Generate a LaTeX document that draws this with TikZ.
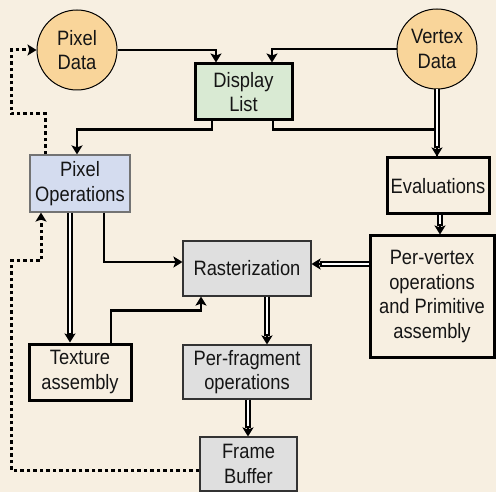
\documentclass[tikz,border=0pt]{standalone}
\usepackage{fontspec}
\setmainfont{Liberation Sans}[FakeStretch=0.88]
\usetikzlibrary{arrows.meta}

\definecolor{paper}{HTML}{F7EFE1}
\definecolor{datafill}{HTML}{F9D59A}
\definecolor{listfill}{HTML}{D9EAD3}
\definecolor{pixfill}{HTML}{D4DCEF}
\definecolor{stagefill}{HTML}{DFDFDF}
\definecolor{ink}{HTML}{151515}

\tikzset{
  txt/.style={font=\fontsize{20.8}{24.5}\selectfont, text=ink, align=center, inner sep=0pt},
  datanode/.style={txt, circle, draw=black, line width=1pt, fill=datafill, minimum size=80pt},
  heavybox/.style={txt, rectangle, draw=black, line width=3pt},
  listbox/.style={heavybox, fill=listfill},
  pixbox/.style={txt, rectangle, draw=black!55, line width=1.2pt, fill=pixfill},
  stagebox/.style={txt, rectangle, draw=black!80, line width=1.1pt, fill=stagefill},
  tip/.style={-{Stealth[length=9pt,width=11pt,inset=2pt]}},
  flow/.style={line width=2.6pt, black, tip},
  plain/.style={line width=2.6pt, black},
  dline/.style={line width=1.7pt, black, double=white, double distance=1.8pt},
  feedback/.style={line width=3pt, black, dash pattern=on 3.5pt off 3pt, tip}
}

\begin{document}
\begin{tikzpicture}[x=1pt, y=-1pt]
  \fill[paper] (0,0) rectangle (496,492);
  \useasboundingbox (0,0) rectangle (496,492);

  % data sources
  \node[datanode] (pd) at (77,50) {Pixel\\Data};
  \node[datanode] (vd) at (437,49) {Vertex\\Data};

  % pipeline stages
  \node[listbox, minimum width=97pt, minimum height=56pt] (dl) at (243.5,92) {Display\\List};
  \node[pixbox, minimum width=100pt, minimum height=57pt] (po) at (80,183.5) {Pixel\\Operations};
  \node[heavybox, minimum width=102pt, minimum height=56pt] (ev) at (438,186) {Evaluations};
  \node[heavybox, minimum width=124pt, minimum height=121pt] (pv) at (432,296.5) {Per-vertex\\operations\\and Primitive\\assembly};
  \node[stagebox, minimum width=128pt, minimum height=55pt] (ra) at (247,268.5) {Rasterization};
  \node[heavybox, minimum width=102pt, minimum height=56pt] (ta) at (80,372) {Texture\\assembly};
  \node[stagebox, minimum width=128pt, minimum height=54pt] (pf) at (247,372) {Per-fragment\\operations};
  \node[stagebox, minimum width=97pt, minimum height=54pt] (fb) at (248.5,464) {Frame\\Buffer};

  % turning points of the feedback paths
  \coordinate (fbturn) at (11,261);
  \coordinate (poturn) at (11,114);

  % end points of the double connectors
  \coordinate (evin) at ([xshift=-1pt]ev.north);
  \coordinate (pvin) at ([xshift=2pt]ev.south |- pv.north);
  \coordinate (rain) at ([yshift=4.5pt]ra.east);
  \coordinate (tain) at ([xshift=-10pt]po.south |- ta.north);
  \coordinate (pfin) at ([xshift=20pt]ra.south |- pf.north);
  \coordinate (fbin) at ([xshift=1pt]pf.south |- fb.north);

  % sources into the display list
  \draw[flow] (pd.east) -| ([xshift=-27.5pt]dl.north);
  \draw[flow] (vd.west) -| ([xshift=28.5pt]dl.north);

  % display list outputs
  \draw[flow] ([xshift=-31.5pt]dl.south) -- ++(0,8) -| ([xshift=-3pt]po.north);
  \draw[plain] ([xshift=29.5pt]dl.south) -- ++(0,8) -| (evin);
  \draw[dline] (vd.south -| evin) -- ([yshift=8pt]evin);
  \draw[flow] ([yshift=10pt]evin) -- (evin);

  % vertex path
  \draw[dline] ([xshift=2pt]ev.south) -- ([yshift=8pt]pvin);
  \draw[flow] ([yshift=10pt]pvin) -- (pvin);
  \draw[dline] (rain -| pv.west) -- ([xshift=8pt]rain);
  \draw[flow] ([xshift=10pt]rain) -- (rain);

  % pixel path
  \draw[flow] ([xshift=24pt]po.south) |- ([yshift=6.5pt]ra.west);
  \draw[dline] ([xshift=-10pt]po.south) -- ([yshift=8pt]tain);
  \draw[flow] ([yshift=10pt]tain) -- (tain);
  \draw[flow] ([xshift=31pt]ta.north) -- ++(0,-32) -| ([xshift=-46pt]ra.south);

  % fragment path
  \draw[dline] ([xshift=20pt]ra.south) -- ([yshift=8pt]pfin);
  \draw[flow] ([yshift=10pt]pfin) -- (pfin);
  \draw[dline] ([xshift=1pt]pf.south) -- ([yshift=8pt]fbin);
  \draw[flow] ([yshift=10pt]fbin) -- (fbin);

  % feedback paths
  \draw[feedback] ([yshift=-6pt]fb.west) -| (fbturn) -| ([xshift=-39pt]po.south);
  \draw[feedback] ([xshift=-35pt]po.north) |- (poturn) |- (pd.west);
\end{tikzpicture}
\end{document}
